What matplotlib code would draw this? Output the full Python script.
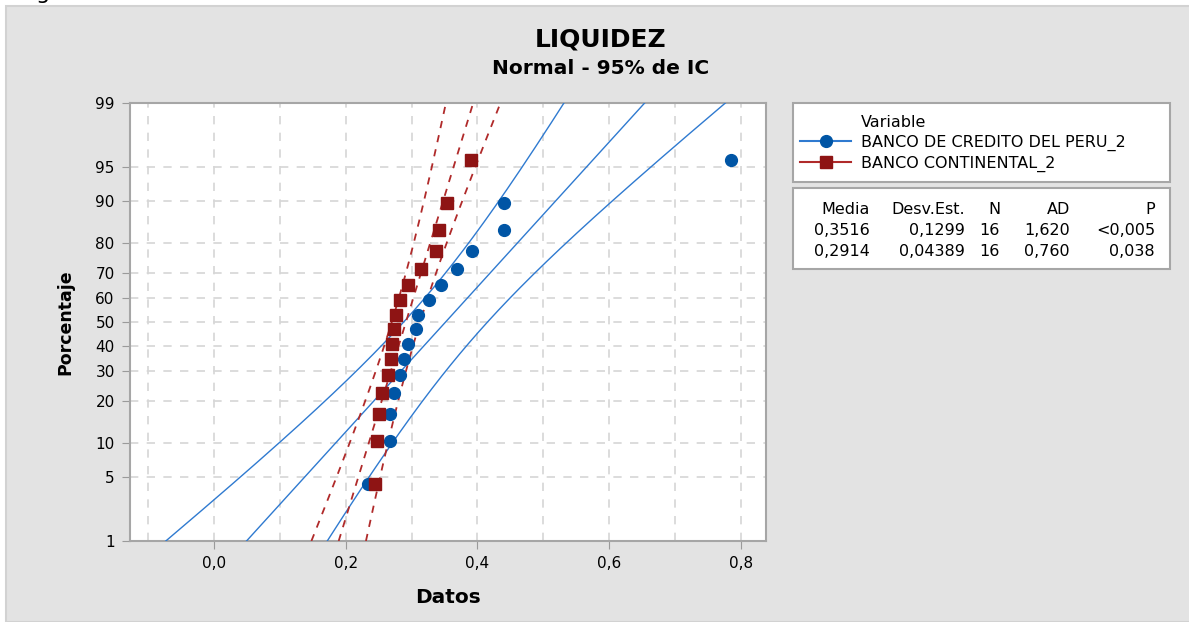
import numpy as np
import matplotlib
matplotlib.use('Agg')
import matplotlib.pyplot as plt
from matplotlib.patches import Rectangle
from matplotlib.lines import Line2D
from statistics import NormalDist

plt.rcParams['font.family'] = ['DejaVu Sans']

# data (sorted values)
bcp = [0.234, 0.267, 0.267, 0.273, 0.282, 0.288, 0.295, 0.307,
       0.310, 0.326, 0.345, 0.369, 0.392, 0.440, 0.440, 0.785]
bbva = [0.244, 0.247, 0.251, 0.255, 0.264, 0.269, 0.270, 0.273,
        0.276, 0.282, 0.295, 0.314, 0.337, 0.342, 0.354, 0.390]

names = ['BANCO DE CREDITO DEL PERU_2', 'BANCO CONTINENTAL_2']
media = [0.3516, 0.2914]
desv = [0.1299, 0.04389]
n_obs = [16, 16]
ad = ['1,620', '0,760']
pval = ['<0,005', '0,038']

pct_ticks = [1, 5, 10, 20, 30, 40, 50, 60, 70, 80, 90, 95, 99]
x_ticks = [0.0, 0.2, 0.4, 0.6, 0.8]

blue = '#0055a5'
blue_line = '#2f7ad0'
red = '#8e1414'
red_line = '#b02a2a'

nd = NormalDist()
z = lambda p: nd.inv_cdf(p)
W, H = 1189, 622

fig = plt.figure(figsize=(11.89, 6.22), dpi=100, facecolor='white')
fig.patches.append(Rectangle((6 / W, 0), 1, 1 - 6 / H, transform=fig.transFigure,
                             facecolor='#e3e3e3', edgecolor='#d2d2d2', lw=1.5, zorder=-10))
# tail of a letter from the text above the screenshot
fig.text(43 / W, 1 + 1 / H, 'g', fontsize=16, ha='center', va='baseline')

ax = fig.add_axes([130 / W, 1 - 541 / H, 636 / W, 438 / H])
ax.set_facecolor('white')

# fitted line and 95% CI for the percentiles
zz = np.linspace(z(0.01), z(0.99), 200)
for m, s, n, col, ls, lw in [(media[0], desv[0], n_obs[0], blue_line, '-', 1.0),
                             (media[1], desv[1], n_obs[1], red_line, (0, (4, 4)), 1.3)]:
    center = m + s * zz
    half = 1.96 * s * np.sqrt(1 / n + zz ** 2 / (2 * n))
    ax.plot(center, zz, color=col, lw=lw, ls=ls, zorder=3)
    ax.plot(center - half, zz, color=col, lw=lw, ls=ls, zorder=3)
    ax.plot(center + half, zz, color=col, lw=lw, ls=ls, zorder=3)

for vals, col, mk, ms in [(bcp, blue, 'o', 8.5), (bbva, red, 's', 9)]:
    vals = np.sort(vals)
    n = len(vals)
    pos = [(i - 0.3) / (n + 0.4) for i in range(1, n + 1)]
    ax.plot(vals, [z(p) for p in pos], ls='none', marker=mk, ms=ms,
            color=col, mec=col, zorder=4)

ax.set_ylim(z(0.01), z(0.99))
ax.set_xlim(-0.1275, 0.838)
ax.set_yticks([z(p / 100) for p in pct_ticks])
ax.set_yticklabels([str(p) for p in pct_ticks])
ax.set_xticks(x_ticks)
ax.set_xticklabels([f'{v:.1f}'.replace('.', ',') for v in x_ticks])
ax.set_xticks(np.arange(-0.1, 0.85, 0.2), minor=True)
ax.tick_params(which='minor', length=0)
ax.tick_params(which='major', length=6, color='#9a9a9a', labelsize=11, pad=5)

ax.grid(True, which='both', color='#d6d6d6', ls=(0, (5, 5)), lw=1.2)
ax.set_axisbelow(True)
for sp in ax.spines.values():
    sp.set_color('#a6a6a6')
    sp.set_linewidth(1.5)

ax.set_xlabel('Datos', fontsize=14.5, fontweight='bold', labelpad=12)
ax.set_ylabel('Porcentaje', fontsize=12.5, fontweight='bold', labelpad=15)

fig.text(601 / W, 1 - 40 / H, 'LIQUIDEZ', fontsize=18, fontweight='bold', ha='center', va='center')
fig.text(601 / W, 1 - 69 / H, 'Normal - 95% de IC', fontsize=14.5, fontweight='bold',
         ha='center', va='center')

# legend box
fig.patches.append(Rectangle((793 / W, 1 - 182 / H), 377 / W, 79 / H, transform=fig.transFigure,
                             facecolor='white', edgecolor='#a6a6a6', lw=1.5))
handles = [Line2D([], [], ls='none', label='Variable'),
           Line2D([], [], color=blue_line, marker='o', mfc=blue, mec=blue, ms=8.5, label=names[0]),
           Line2D([], [], color=red_line, marker='s', mfc=red, mec=red, ms=8.5, label=names[1])]
leg = fig.legend(handles=handles, loc='upper left', bbox_to_anchor=(800 / W, 1 - 115 / H),
                 fontsize=11.5, frameon=False, handlelength=3.2, handletextpad=0.6,
                 labelspacing=0.3, borderpad=0, borderaxespad=0)

# stats table box
fig.patches.append(Rectangle((793 / W, 1 - 269 / H), 377 / W, 81 / H, transform=fig.transFigure,
                             facecolor='white', edgecolor='#a6a6a6', lw=1.5))
cols_x = [870, 965, 1000, 1070, 1155]
header = ['Media', 'Desv.Est.', 'N', 'AD', 'P']
rows = [header,
        [f'{media[0]:.4f}'.replace('.', ','), f'{desv[0]:.4f}'.replace('.', ','), str(n_obs[0]), ad[0], pval[0]],
        [f'{media[1]:.4f}'.replace('.', ','), f'{desv[1]:.5f}'.replace('.', ','), str(n_obs[1]), ad[1], pval[1]]]
for row, y in zip(rows, [209, 230, 252]):
    for cx, t in zip(cols_x, row):
        fig.text(cx / W, 1 - y / H, t, fontsize=11.5, ha='right', va='center')

fig.savefig('out.png', dpi=100, facecolor=fig.get_facecolor())
